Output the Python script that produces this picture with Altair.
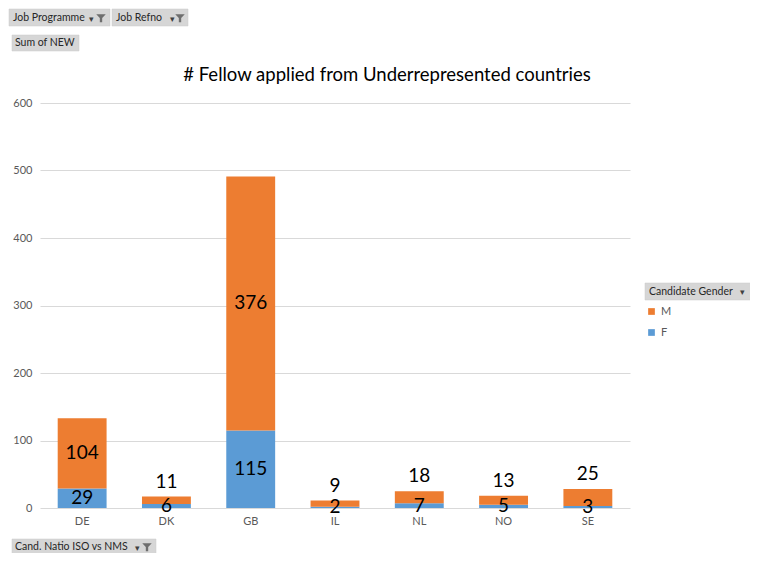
import altair as alt
import pandas as pd

countries = ["DE", "DK", "GB", "IL", "NL", "NO", "SE"]
female = [29, 6, 115, 2, 7, 5, 3]
male = [104, 11, 376, 9, 18, 13, 25]
y_ticks = [0, 100, 200, 300, 400, 500, 600]
title_text = "# Fellow applied from Underrepresented countries"
legend_title = "Candidate Gender"
gender_order = ["M", "F"]
gender_colors = ["#ED7D31", "#5B9BD5"]

df = pd.DataFrame({"Country": countries, "F": female, "M": male})

FONT = "Lato"
W, H = 590, 405

base = alt.Chart(df)

x_enc = alt.X("Country:N", sort=countries,
              scale=alt.Scale(paddingInner=0.42, paddingOuter=0.21),
              axis=alt.Axis(title=None, labelAngle=0, domain=False, ticks=False, grid=False,
                            labelColor="#595959", labelFontSize=11, labelFont=FONT,
                            labelPadding=7))

bars = base.transform_fold(["F", "M"], as_=["Gender", "Count"]).transform_calculate(
    ord="datum.Gender == 'F' ? 0 : 1"
).mark_bar().encode(
    x=x_enc,
    y=alt.Y("Count:Q", stack="zero",
            scale=alt.Scale(domain=[0, 600], nice=False),
            axis=alt.Axis(title=None, values=y_ticks, domain=False, ticks=False, grid=True,
                          gridColor="#d9d9d9", gridWidth=1,
                          labelColor="#595959", labelFontSize=11, labelFont=FONT,
                          labelPadding=8)),
    color=alt.Color("Gender:N", scale=alt.Scale(domain=gender_order, range=gender_colors),
                    legend=alt.Legend(title=None, orient="none", legendX=606, legendY=203,
                                      symbolType="square", symbolSize=45, rowPadding=9,
                                      labelFontSize=11, labelColor="#595959", labelFont=FONT)),
    order=alt.Order("ord:Q"),
)

label_style = dict(fontSize=19, font=FONT, color="#000000", baseline="middle")

f_labels = base.transform_calculate(pos="datum.F / 2").mark_text(**label_style).encode(
    x=x_enc, y=alt.Y("pos:Q"), text="F:Q")

m_in = base.transform_filter("datum.M >= 50").transform_calculate(
    pos="datum.F + datum.M / 2").mark_text(**label_style).encode(
    x=x_enc, y=alt.Y("pos:Q"), text="M:Q")

m_out = base.transform_filter("datum.M < 50").transform_calculate(
    pos="datum.F + datum.M").mark_text(dy=-15, **label_style).encode(
    x=x_enc, y=alt.Y("pos:Q"), text="M:Q")

data_layer = alt.layer(bars, f_labels, m_in, m_out)

# UI chrome (pivot-chart buttons, legend header, title)
buttons = pd.DataFrame({
    "x": [-31, 72, -28, -28, 605],
    "x2": [70, 148, 39, 116, 711],
    "y": [-94, -94, -68, 436, 180],
    "y2": [-77, -77, -52, 452, 197],
})
btn_rects = alt.Chart(buttons).mark_rect(color="#d6d6d6", stroke="#c8c8c8", strokeWidth=0.5).encode(
    x=alt.X("x:Q", scale=None), x2="x2:Q", y=alt.Y("y:Q", scale=None), y2="y2:Q")

btn_text = pd.DataFrame({
    "x": [-27, 76, -25, -25, 609],
    "y": [-85.5, -85.5, -60, 444, 188.5],
    "t": ["Job Programme", "Job Refno", "Sum of NEW", "Cand. Natio ISO vs NMS", legend_title],
})
btn_labels = alt.Chart(btn_text).mark_text(align="left", baseline="middle", fontSize=10.5,
                                           font=FONT, color="#262626").encode(
    x=alt.X("x:Q", scale=None), y=alt.Y("y:Q", scale=None), text="t:N")

arrow_df = pd.DataFrame({"x": [51, 132, 97, 702], "y": [-84, -84, 445, 189]})
arrows = alt.Chart(arrow_df).mark_text(text="▾", fontSize=9, color="#404040",
                                       baseline="middle").encode(
    x=alt.X("x:Q", scale=None), y=alt.Y("y:Q", scale=None))

funnel_df = pd.DataFrame({"x": [61, 140, 107], "y": [-85, -85, 444]})
funnels = alt.Chart(funnel_df).mark_point(
    shape="M-1,-0.8L1,-0.8L0.25,0L0.25,0.9L-0.25,0.9L-0.25,0Z",
    filled=True, size=90, color="#6e6e6e", opacity=1).encode(
    x=alt.X("x:Q", scale=None), y=alt.Y("y:Q", scale=None))

title_df = pd.DataFrame({"x": [347], "y": [-28], "t": [title_text]})
title = alt.Chart(title_df).mark_text(fontSize=18.5, font=FONT, color="#000000",
                                      baseline="middle").encode(
    x=alt.X("x:Q", scale=None), y=alt.Y("y:Q", scale=None), text="t:N")

# IL leader line from label to bar
leader = base.transform_filter("datum.Country == 'IL'").transform_calculate(
    top="datum.F + datum.M").mark_rule(color="#7f7f7f", strokeWidth=1).encode(
    x=x_enc, y=alt.Y("top:Q"), y2=alt.Y2("top:Q"))

chart = alt.layer(
    data_layer, btn_rects, btn_labels, arrows, funnels, title
).resolve_scale(x="independent", y="independent").properties(
    width=W, height=H,
    autosize=alt.AutoSizeParams(type="none"),
    padding={"left": 32, "top": 95, "right": 120, "bottom": 45},
).configure_view(stroke=None)

chart.save("out.html", embed_options={"renderer": "svg", "actions": False})
